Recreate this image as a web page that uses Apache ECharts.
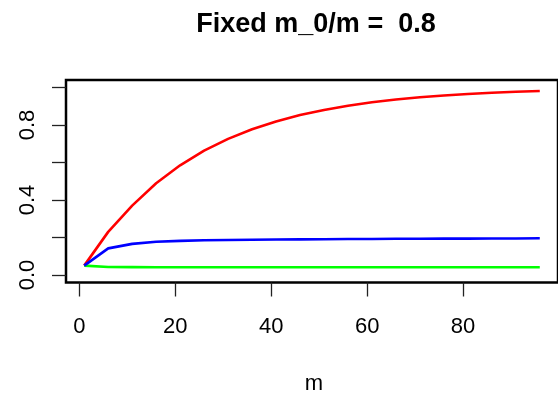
<!DOCTYPE html>
<html>
<head>
<meta charset="utf-8">
<script src="https://cdn.jsdelivr.net/npm/echarts@6/dist/echarts.min.js"></script>
<style>html,body{margin:0;padding:0;background:#fff}#c{width:558px;height:396px}</style>
</head>
<body>
<div id="c"></div>
<script>
var titleText = 'Fixed m_0/m =  0.8';
var xLabel = 'm';
var mValues = [1, 6, 11, 16, 21, 26, 31, 36, 41, 46, 51, 56, 61, 66, 71, 76, 81, 86, 91, 96];
var redValues = [0.05, 0.230, 0.370, 0.489, 0.585, 0.663, 0.726, 0.777, 0.819, 0.853, 0.880, 0.903, 0.921, 0.936, 0.948, 0.957, 0.965, 0.972, 0.977, 0.981];
var blueValues = [0.05, 0.142, 0.166, 0.177, 0.182, 0.185, 0.187, 0.188, 0.189, 0.190, 0.191, 0.192, 0.192, 0.193, 0.193, 0.194, 0.194, 0.195, 0.195, 0.196];
var greenValues = [0.05, 0.043, 0.042, 0.041, 0.041, 0.041, 0.041, 0.041, 0.041, 0.041, 0.041, 0.041, 0.041, 0.041, 0.041, 0.041, 0.041, 0.041, 0.041, 0.041];
var xTicks = [0, 20, 40, 60, 80];
var yTicks = [0, 0.2, 0.4, 0.6, 0.8, 1.0];
var yLabelTicks = [0, 0.4, 0.8];

function pairs(xs, ys) { return xs.map(function (x, i) { return [x, ys[i]]; }); }

var font = 'Liberation Sans, Arial, Helvetica, sans-serif';
var chart = echarts.init(document.getElementById('c'), null, { renderer: 'canvas' });
chart.setOption({
  animation: false,
  backgroundColor: '#ffffff',
  title: {
    text: titleText,
    left: 311,
    top: 6,
    textAlign: 'center',
    textStyle: { fontFamily: font, fontSize: 27, fontWeight: 'bold', color: '#000' }
  },
  grid: {
    left: 66, top: 80, width: 497, height: 202.5,
    show: true, borderColor: '#000', borderWidth: 2.5, backgroundColor: 'transparent'
  },
  xAxis: {
    type: 'value', min: -2.8, max: 99.8,
    axisLine: { show: false, onZero: false },
    splitLine: { show: false },
    axisTick: { show: true, inside: false, customValues: xTicks, length: 14, lineStyle: { color: '#222', width: 1.3 } },
    axisLabel: { customValues: xTicks, margin: 33, fontFamily: font, fontSize: 22, color: '#000' }
  },
  yAxis: {
    type: 'value', min: -0.04, max: 1.04,
    axisLine: { show: false, onZero: false },
    splitLine: { show: false },
    axisTick: { show: true, inside: false, customValues: yTicks, length: 14, lineStyle: { color: '#222', width: 1.3 } },
    axisLabel: {
      customValues: yLabelTicks, rotate: 90, margin: 27, fontFamily: font, fontSize: 22, color: '#000',
      formatter: function (v) { return v.toFixed(1); }
    }
  },
  graphic: [{
    type: 'text',
    style: { text: xLabel, x: 314, y: 384, textAlign: 'center', textVerticalAlign: 'middle', font: '22px ' + font, fill: '#000' }
  }],
  series: [
    { type: 'line', data: pairs(mValues, redValues), showSymbol: false, lineStyle: { color: '#ff0000', width: 2.6 }, itemStyle: { color: '#ff0000' } },
    { type: 'line', data: pairs(mValues, greenValues), showSymbol: false, lineStyle: { color: '#00ff00', width: 2.6 }, itemStyle: { color: '#00ff00' } },
    { type: 'line', data: pairs(mValues, blueValues), showSymbol: false, lineStyle: { color: '#0000ff', width: 2.6 }, itemStyle: { color: '#0000ff' } }
  ]
});
</script>
</body>
</html>
